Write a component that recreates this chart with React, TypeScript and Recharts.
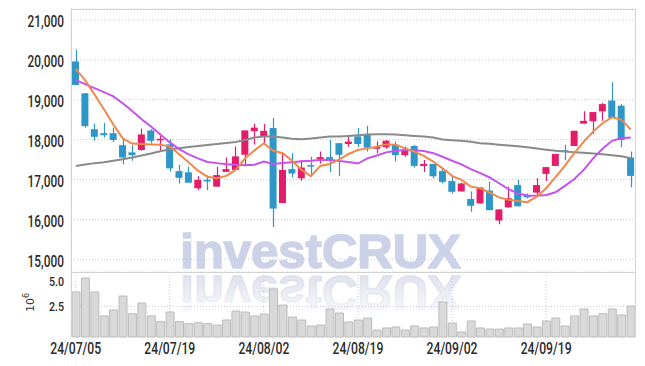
import { Bar, CartesianGrid, ComposedChart, Line, XAxis, YAxis } from "recharts";

// trading days (KRX), 24/07/05 .. 24/10/04
const dates = [
  "24/07/05", "24/07/08", "24/07/09", "24/07/10", "24/07/11", "24/07/12", "24/07/15", "24/07/16", "24/07/17", "24/07/18",
  "24/07/19", "24/07/22", "24/07/23", "24/07/24", "24/07/25", "24/07/26", "24/07/29", "24/07/30", "24/07/31", "24/08/01",
  "24/08/02", "24/08/05", "24/08/06", "24/08/07", "24/08/08", "24/08/09", "24/08/12", "24/08/13", "24/08/14", "24/08/16",
  "24/08/19", "24/08/20", "24/08/21", "24/08/22", "24/08/23", "24/08/26", "24/08/27", "24/08/28", "24/08/29", "24/08/30",
  "24/09/02", "24/09/03", "24/09/04", "24/09/05", "24/09/06", "24/09/09", "24/09/10", "24/09/11", "24/09/12", "24/09/13",
  "24/09/19", "24/09/20", "24/09/23", "24/09/24", "24/09/25", "24/09/26", "24/09/27", "24/09/30", "24/10/02", "24/10/04",
];

const opens = [
  19960, 19160, 18260, 18160, 18160, 17860, 17680, 17740, 18230, 17980,
  17880, 17210, 17180, 16780, 16990, 16820, 17190, 17240, 17620, 18210,
  18090, 18290, 16410, 17260, 17030, 17360, 17500, 17560, 17910, 17890,
  18080, 18120, 17770, 17810, 17870, 17610, 17840, 17340, 17390, 17210,
  16960, 16700, 16510, 16400, 16720, 15970, 16300, 16860, 16610, 16670,
  17140, 17340, 17730, 17840, 18400, 18460, 18710, 18980, 18850, 17550,
];
const highs = [
  20260, 19170, 18400, 18420, 18300, 18010, 17860, 18280, 18260, 18090,
  18010, 17370, 17320, 17080, 17100, 17320, 17550, 17830, 18230, 18400,
  18390, 18540, 17660, 17660, 17490, 17570, 17700, 17990, 17910, 18080,
  18290, 18350, 17950, 17990, 17950, 17820, 17870, 17490, 17390, 17280,
  17090, 16910, 16700, 16800, 16950, 16250, 16820, 16990, 16650, 17030,
  17310, 17640, 17870, 18220, 18710, 18690, 18920, 19440, 18900, 17700,
];
const lows = [
  19360, 18300, 17980, 18050, 17940, 17380, 17470, 17720, 17900, 17700,
  17200, 16900, 16920, 16730, 16730, 16820, 17190, 17240, 17340, 17880,
  17870, 15810, 16410, 17050, 16970, 17110, 17400, 17190, 17090, 17820,
  17810, 17700, 17660, 17770, 17450, 17570, 17300, 17190, 17030, 16900,
  16650, 16700, 16190, 16400, 16230, 15880, 16300, 16320, 16530, 16610,
  16960, 17340, 17480, 17840, 18400, 18140, 18470, 18540, 17810, 16800,
];
const closes = [
  19370, 18340, 18070, 18110, 17990, 17550, 17610, 18130, 17970, 18020,
  17280, 17040, 16920, 16990, 16950, 17110, 17260, 17580, 18230, 18300,
  18220, 16270, 17240, 17150, 17300, 17340, 17560, 17490, 17620, 17950,
  17890, 17800, 17820, 17970, 17610, 17720, 17340, 17390, 17080, 16940,
  16690, 16900, 16340, 16800, 16230, 16250, 16530, 16330, 16550, 16860,
  17310, 17640, 17720, 18220, 18470, 18690, 18890, 18540, 17990, 17090,
];
const volumes = [
  3680000, 4820000, 3680000, 1720000, 2210000, 3350000, 1900000, 2780000, 1720000, 1250000,
  2040000, 1250000, 1090000, 1170000, 1090000, 980000, 1390000, 2120000, 2040000, 1720000,
  1880000, 3920000, 2610000, 1630000, 1390000, 900000, 980000, 2290000, 1960000, 1230000,
  1390000, 1550000, 570000, 740000, 820000, 570000, 900000, 740000, 820000, 2860000,
  1140000, 410000, 1310000, 740000, 650000, 650000, 740000, 740000, 1060000, 820000,
  1310000, 1550000, 900000, 1720000, 2290000, 1720000, 1900000, 2290000, 1800000, 2530000,
];

// moving averages
const ma5 = [
  19775, 19490, 19130, 18760, 18380, 18030, 17900, 17890, 17880, 17870,
  17830, 17630, 17430, 17220, 17070, 17030, 17090, 17240, 17530, 17730,
  17910, 17720, 17660, 17470, 17240, 17080, 17340, 17390, 17500, 17640,
  17740, 17780, 17820, 17880, 17870, 17780, 17700, 17590, 17450, 17280,
  17090, 16990, 16820, 16780, 16670, 16550, 16490, 16460, 16430, 16570,
  16780, 17060, 17350, 17660, 17950, 18200, 18410, 18560, 18500, 18250,
];
const ma20 = [
  19490, 19390, 19290, 19190, 19085, 18910, 18720, 18510, 18330, 18130,
  17930, 17760, 17630, 17530, 17440, 17410, 17380, 17370, 17360, 17370,
  17450, 17390, 17415, 17435, 17455, 17470, 17490, 17490, 17465, 17440,
  17400, 17530, 17600, 17680, 17720, 17740, 17730, 17715, 17660, 17570,
  17470, 17380, 17260, 17160, 17050, 16905, 16760, 16650, 16600, 16590,
  16610, 16680, 16840, 17010, 17240, 17530, 17770, 17970, 18035, 18055,
];
const ma60 = [
  17340, 17375, 17410, 17435, 17470, 17510, 17550, 17600, 17650, 17710,
  17760, 17785, 17815, 17840, 17865, 17890, 17915, 17940, 17990, 18050,
  18075, 18075, 18050, 18020, 18010, 18025, 18050, 18075, 18075, 18090,
  18110, 18125, 18135, 18135, 18125, 18110, 18090, 18075, 18050, 18005,
  17985, 17970, 17945, 17910, 17895, 17870, 17850, 17835, 17810, 17775,
  17745, 17720, 17700, 17685, 17670, 17650, 17635, 17610, 17585, 17535,
];

const priceTicks = [15000, 16000, 17000, 18000, 19000, 20000, 21000];
const volumeTicks = [2500000, 5000000];

const RED = "#e41d6b";
const BLUE = "#2f96c8";
const GRID = "#c4c8d6";
const FONT = "Roboto, 'Noto Sans', sans-serif";
const MARK = "#ccd2e7";

const rows = dates.map((date, i) => ({
  date,
  open: opens[i],
  high: highs[i],
  low: lows[i],
  close: closes[i],
  range: [lows[i], highs[i]],
  vol: volumes[i],
  ma5: ma5[i],
  ma20: ma20[i],
  ma60: ma60[i],
}));

function Candle(props: any) {
  const { x, y, width, height, payload } = props;
  const { open, close, high, low } = payload;
  const color = close >= open ? RED : BLUE;
  const top = Math.min(y, y + height);
  const span = Math.abs(height);
  const ppu = span / (high - low || 1);
  const yOf = (v: number) => top + (high - v) * ppu;
  const bodyTop = yOf(Math.max(open, close));
  const bodyH = Math.max(1.5, Math.abs(yOf(open) - yOf(close)));
  const cx = Math.round(x + width / 2) + 0.5;
  return (
    <g>
      <line x1={cx} x2={cx} y1={top} y2={top + span} stroke={color} strokeWidth={1.2} />
      <rect x={x} y={bodyTop} width={width} height={bodyH} fill={color} />
    </g>
  );
}

function PriceTick(props: any) {
  const { x, y, payload } = props;
  return (
    <text
      transform={`translate(${x},${y + 7.5}) scale(0.72,1)`}
      textAnchor="end"
      fontFamily={FONT}
      fontSize={16.5}
      fontWeight={500}
      fill="#2a2a2a"
    >
      {payload.value.toLocaleString("en-US")}
    </text>
  );
}

function VolTick(props: any) {
  const { x, y, payload } = props;
  return (
    <text
      transform={`translate(${x},${y + 4.5}) scale(0.85,1)`}
      textAnchor="end"
      fontFamily={FONT}
      fontSize={12.5}
      fontWeight={500}
      fill="#2a2a2a"
    >
      {(payload.value / 1e6).toFixed(1)}
    </text>
  );
}

function DateTick(props: any) {
  const { x, y, payload } = props;
  return (
    <text
      transform={`translate(${x},${y + 17}) scale(0.76,1)`}
      textAnchor="middle"
      fontFamily={FONT}
      fontSize={16}
      fontWeight={500}
      fill="#2a2a2a"
    >
      {payload.value}
    </text>
  );
}

function Watermark() {
  return (
    <svg width={645} height={366} style={{ position: "absolute", left: 0, top: 0 }}>
      <defs>
        <linearGradient id="fade" gradientUnits="userSpaceOnUse" x1="0" y1="268" x2="0" y2="228">
          <stop offset="0%" stopColor="#d9dcea" stopOpacity={0.8} />
          <stop offset="100%" stopColor="#d9dcea" stopOpacity={0.1} />
        </linearGradient>
      </defs>
      <text
        x={320.5}
        y={268}
        textAnchor="middle"
        fontFamily="'Liberation Sans', Arial, sans-serif"
        fontWeight="bold"
        fontSize={49}
        fill={MARK}
        stroke={MARK}
        strokeWidth={1.6}
      >
        investCRUX
      </text>
      <g transform="translate(0,544) scale(1,-1)">
        <text
          x={320.5}
          y={268}
          textAnchor="middle"
          fontFamily="'Liberation Sans', Arial, sans-serif"
          fontWeight="bold"
          fontSize={49}
          fill="url(#fade)"
          stroke="url(#fade)"
          strokeWidth={1.6}
        >
          investCRUX
        </text>
      </g>
    </svg>
  );
}

export default function App() {
  return (
    <div style={{ position: "absolute", left: 0, top: 0, width: 645, height: 366, background: "#fff" }}>
      <Watermark />
      <div style={{ position: "absolute", left: 0, top: 0 }}>
        <ComposedChart width={645} height={272} data={rows} margin={{ top: 9, right: 9.5, left: 0, bottom: 0 }}>
          <CartesianGrid stroke={GRID} strokeDasharray="1 2" />
          <XAxis dataKey="date" interval={9} height={0} tick={false} axisLine={false} tickLine={false} />
          <YAxis
            domain={[14680, 21275]}
            ticks={priceTicks}
            allowDataOverflow
            width={71}
            tick={<PriceTick />}
            tickSize={0}
            tickMargin={7}
            axisLine={false}
            tickLine={false}
          />
          <Bar dataKey="range" barSize={7} shape={(p: any) => <Candle {...p} />} isAnimationActive={false} />
          <Line type="linear" dataKey="ma60" stroke="#8a8a8a" strokeWidth={2} dot={false} isAnimationActive={false} />
          <Line type="linear" dataKey="ma20" stroke="#c552ec" strokeWidth={2} dot={false} isAnimationActive={false} />
          <Line type="linear" dataKey="ma5" stroke="#f0884c" strokeWidth={2} dot={false} isAnimationActive={false} />
        </ComposedChart>
      </div>
      <div style={{ position: "absolute", left: 0, top: 272 }}>
        <ComposedChart width={645} height={94} data={rows} margin={{ top: 0, right: 9.5, left: 0, bottom: 0 }}>
          <CartesianGrid stroke={GRID} strokeDasharray="1 2" horizontalValues={[2500000]} />
          <XAxis
            dataKey="date"
            interval={9}
            height={29}
            tick={<DateTick />}
            tickSize={0}
            tickMargin={0}
            axisLine={false}
            tickLine={false}
          />
          <YAxis
            domain={[0, 5310000]}
            ticks={volumeTicks}
            width={71}
            tick={<VolTick />}
            tickSize={0}
            tickMargin={7}
            axisLine={false}
            tickLine={false}
            label={{
              content: () => (
                <text transform="translate(33.5,40) rotate(-90)" fontFamily="'DejaVu Sans', sans-serif" fontSize={11} fill="#333">
                  10
                  <tspan dy={-5} fontSize={8}>6</tspan>
                </text>
              ),
            }}
          />
          <Bar dataKey="vol" barSize={8} fill="#d9d9d9" stroke="#bcbcbc" strokeWidth={1} isAnimationActive={false} />
        </ComposedChart>
      </div>
      <div
        style={{
          position: "absolute",
          left: 71,
          top: 9,
          width: 565,
          height: 328,
          boxSizing: "border-box",
          borderLeft: "1px solid #d2d2d2",
          borderTop: "1px solid #d2d2d2",
          borderRight: "1px solid #d2d2d2",
          pointerEvents: "none",
        }}
      />
      <div style={{ position: "absolute", left: 71, top: 272, width: 565, height: 1, background: "#d2d2d2" }} />
    </div>
  );
}
